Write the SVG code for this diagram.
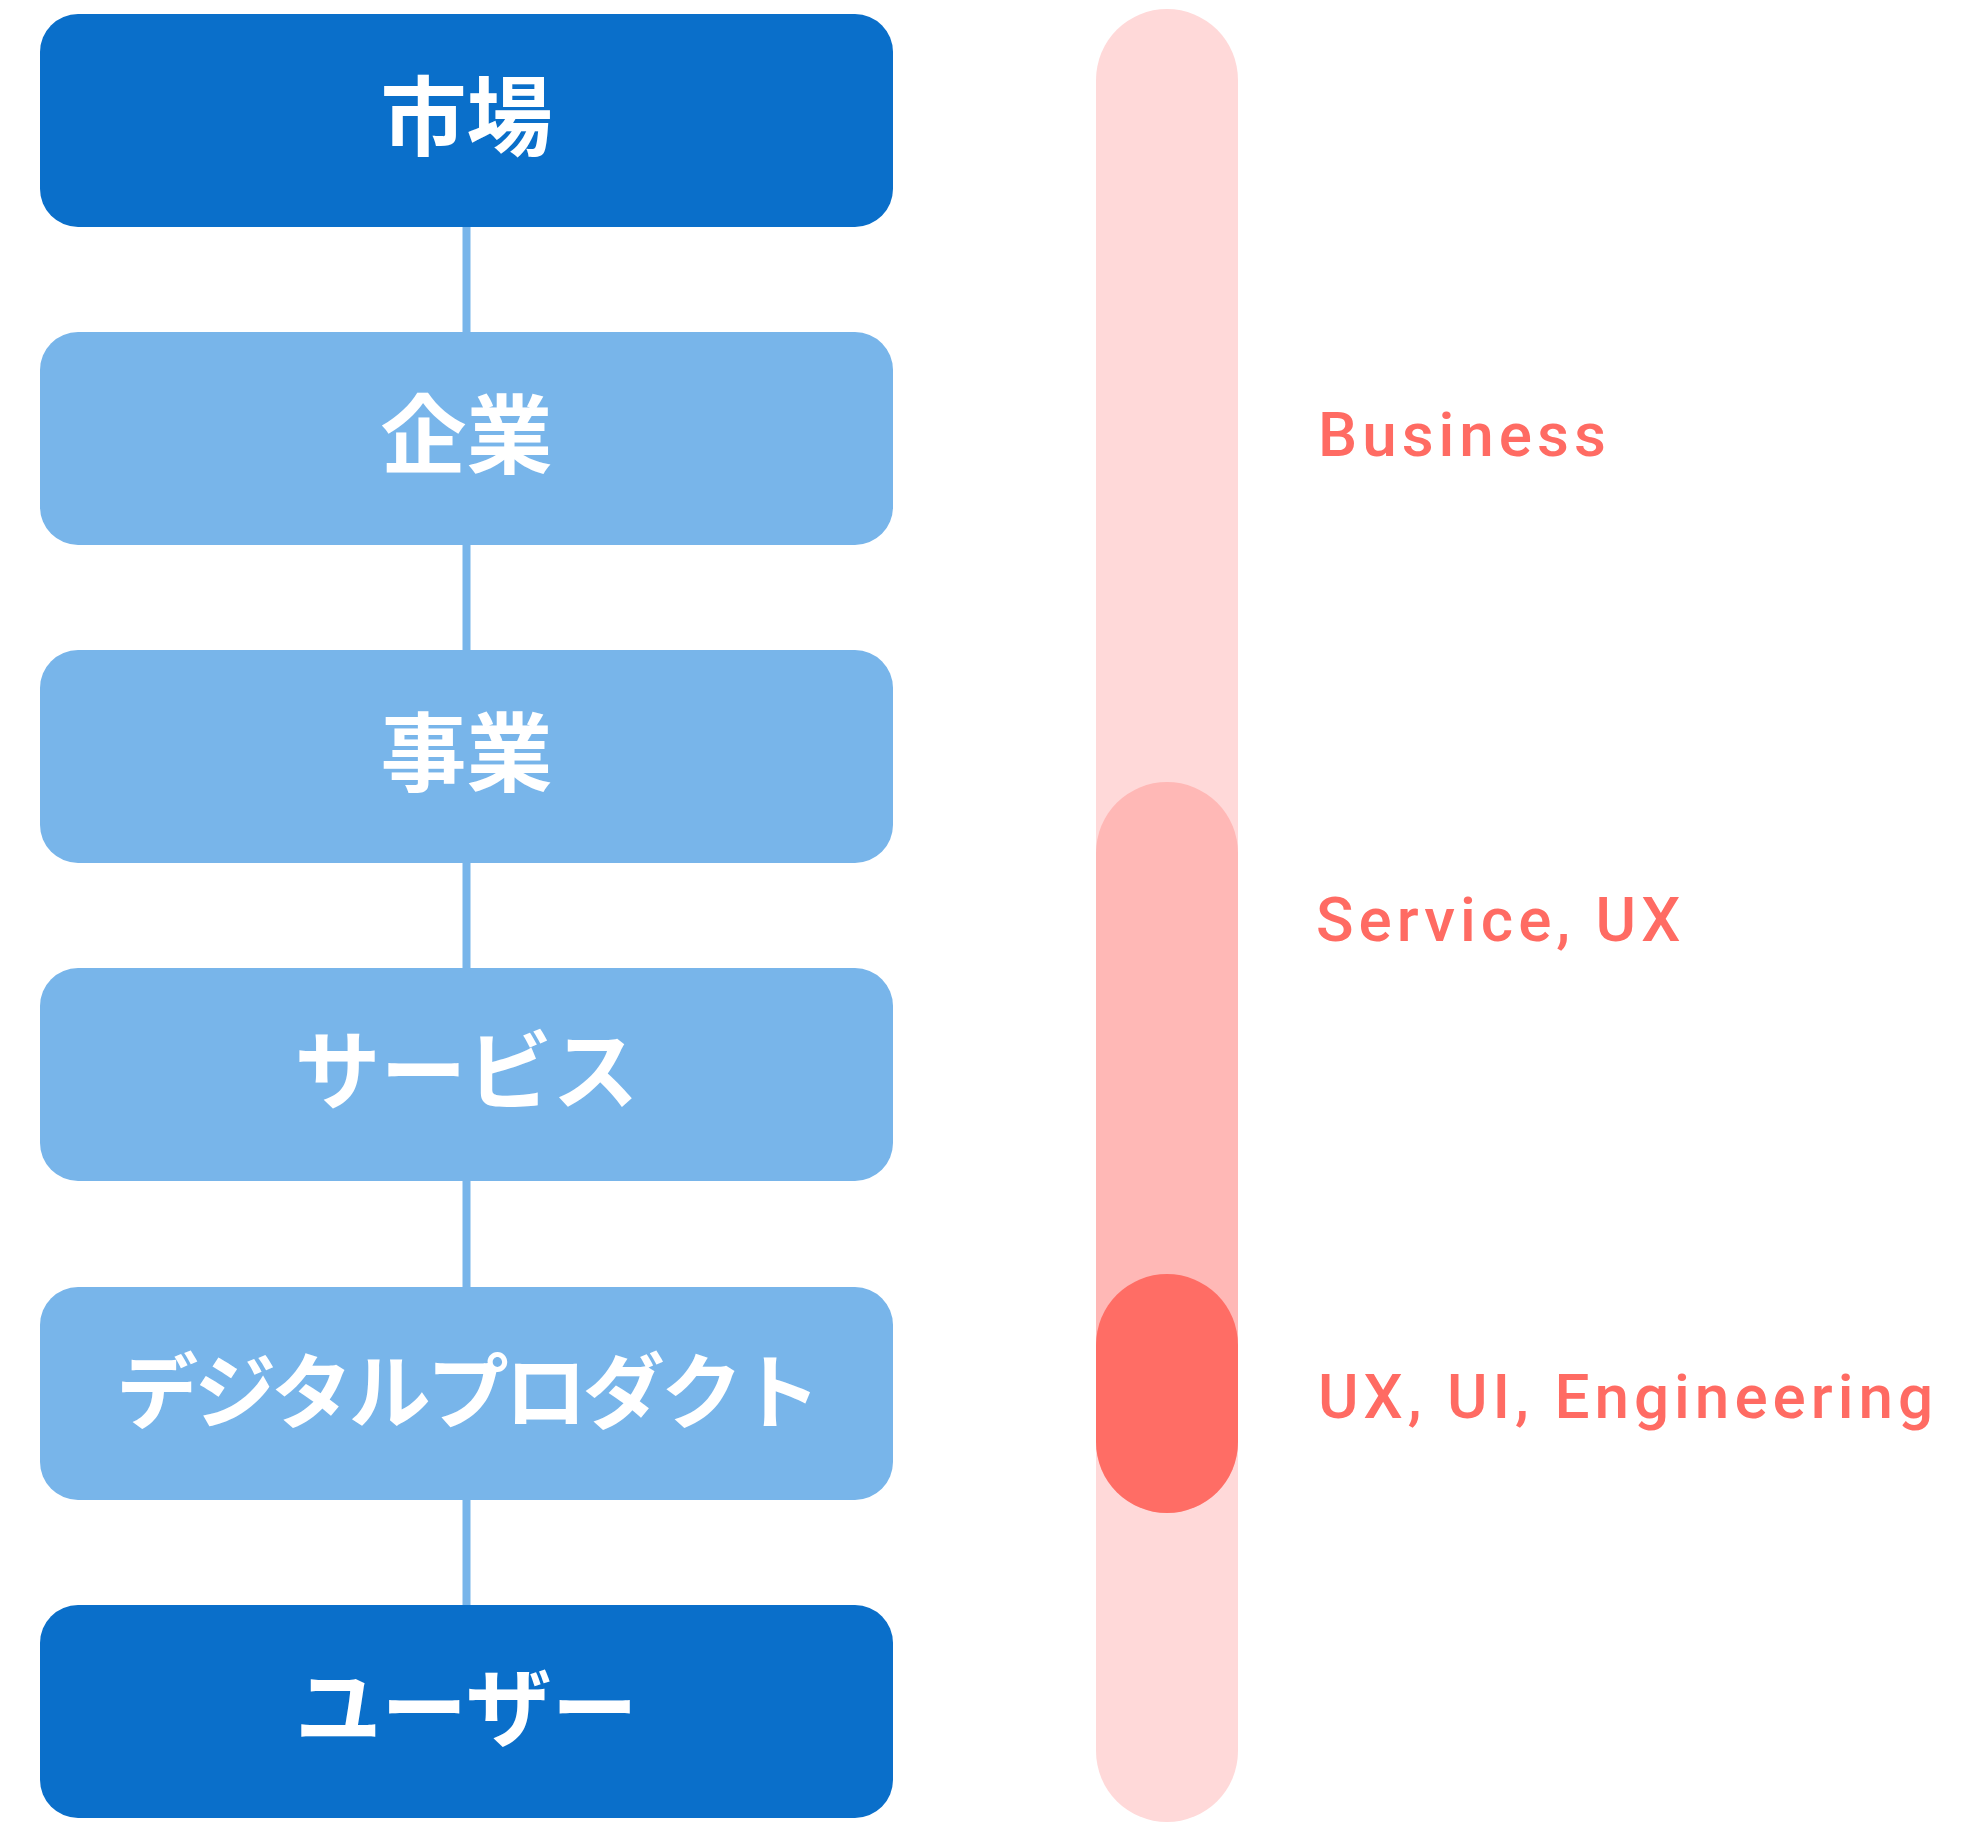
<svg xmlns="http://www.w3.org/2000/svg" width="1977" height="1822" viewBox="0 0 1977 1822">
<style>
.box-dark{fill:#0A6FCA}
.box-light{fill:#78B5EA}
.lbl{font-family:"Noto Sans CJK JP","Noto Sans",sans-serif;font-weight:700;fill:#FFFFFF;text-anchor:middle}
.conn{stroke:#78B5EA;stroke-width:8;fill:none}
.side{font-family:Roboto,"Liberation Sans",sans-serif;font-weight:500;font-size:62px;fill:#FF6B63;letter-spacing:5px}
</style>
<rect width="1977" height="1822" fill="#FFFFFF"/>
<g id="connectors">
<line class="conn" x1="466.5" y1="227" x2="466.5" y2="333"/>
<line class="conn" x1="466.5" y1="545" x2="466.5" y2="651"/>
<line class="conn" x1="466.5" y1="863" x2="466.5" y2="969"/>
<line class="conn" x1="466.5" y1="1181" x2="466.5" y2="1287"/>
<line class="conn" x1="466.5" y1="1500" x2="466.5" y2="1606"/>
</g>
<g id="node-market">
<rect class="box-dark" x="40" y="14" width="853" height="213" rx="38"/>
<text class="lbl" x="466.5" y="149" font-size="86">市場</text>
</g>
<g id="node-company">
<rect class="box-light" x="40" y="332" width="853" height="213" rx="38"/>
<text class="lbl" x="466.5" y="467" font-size="86">企業</text>
</g>
<g id="node-business">
<rect class="box-light" x="40" y="650" width="853" height="213" rx="38"/>
<text class="lbl" x="466.5" y="785" font-size="86">事業</text>
</g>
<g id="node-service">
<rect class="box-light" x="40" y="968" width="853" height="213" rx="38"/>
<text class="lbl" x="466.5" y="1103" font-size="86">サービス</text>
</g>
<g id="node-digital">
<rect class="box-light" x="40" y="1287" width="853" height="213" rx="38"/>
<text class="lbl" x="466.5" y="1422" font-size="82" letter-spacing="-4">デジタルプロダクト</text>
</g>
<g id="node-user">
<rect class="box-dark" x="40" y="1605" width="853" height="213" rx="38"/>
<text class="lbl" x="466.5" y="1740" font-size="86">ユーザー</text>
</g>
<g id="scale">
<rect x="1096" y="9" width="142" height="1813" rx="71" fill="#FFD9D9"/>
<rect x="1096" y="782" width="142" height="731" rx="71" fill="#FFB8B6"/>
<rect x="1096" y="1274" width="142" height="239" rx="71" fill="#FF6D65"/>
</g>
<g id="scale-labels">
<text class="side" x="1318" y="456">Business</text>
<text class="side" x="1316" y="941">Service, UX</text>
<text class="side" x="1318" y="1418">UX, UI, Engineering</text>
</g>
</svg>
